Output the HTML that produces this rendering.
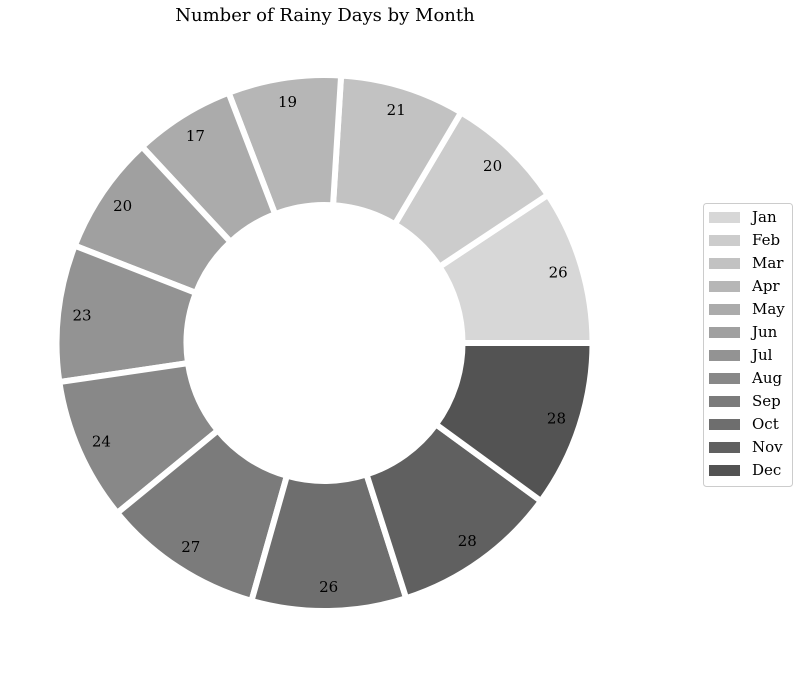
<!DOCTYPE html>
<html><head><meta charset="utf-8"><style>
body{margin:0;background:#fff;}
svg text{font-family:"DejaVu Serif","Liberation Serif",serif;}
</style></head><body>
<svg id="chart" width="800" height="669" viewBox="0 0 800 669">
<text x="325" y="21" text-anchor="middle" font-size="18" fill="#000">Number of Rainy Days by Month</text>
<g id="wedges"></g>
<g id="labels"></g>
<g>
<rect x="703.5" y="203.5" width="89" height="283" rx="3" fill="#fff" stroke="#ccc"/>
<g id="legend"></g>
</g>
</svg>
<script>
const months=["Jan","Feb","Mar","Apr","May","Jun","Jul","Aug","Sep","Oct","Nov","Dec"];
const rainyDays=[26,20,21,19,17,20,23,24,27,26,28,28];
const colors=["#d7d7d7","#cccccc","#c2c2c2","#b6b6b6","#ababab","#a0a0a0","#939393","#888888","#7b7b7b","#6e6e6e","#606060","#535353"];
const ns="http://www.w3.org/2000/svg";
const cx=324.5,cy=343,R=268,r=138,LR=244;
const total=rainyDays.reduce((a,b)=>a+b,0);
const wg=document.getElementById('wedges'),lg=document.getElementById('labels'),leg=document.getElementById('legend');
function pt(rad,a){return [cx+rad*Math.cos(a),cy-rad*Math.sin(a)];}
let start=0;
rainyDays.forEach((v,i)=>{
  const a0=start/total*2*Math.PI,a1=(start+v)/total*2*Math.PI;start+=v;
  const large=(a1-a0)>Math.PI?1:0;
  const p0=pt(R,a0),p1=pt(R,a1),q1=pt(r,a1),q0=pt(r,a0);
  const d=`M${p0} A${R},${R} 0 ${large} 0 ${p1} L${q1} A${r},${r} 0 ${large} 1 ${q0} Z`;
  const p=document.createElementNS(ns,'path');
  p.setAttribute('d',d);p.setAttribute('fill',colors[i]);p.setAttribute('stroke','#fff');p.setAttribute('stroke-width','6');p.setAttribute('stroke-linejoin','miter');
  
  
  wg.appendChild(p);
  const am=(a0+a1)/2,lp=pt(LR,am);
  const t=document.createElementNS(ns,'text');
  t.setAttribute('x',lp[0]);t.setAttribute('y',lp[1]+5);t.setAttribute('text-anchor','middle');t.setAttribute('font-size','15');
  t.textContent=v;
  
  
  lg.appendChild(t);
  const y=217+i*23;
  const g=document.createElementNS(ns,'g');
  
  
  const rc=document.createElementNS(ns,'rect');
  rc.setAttribute('x',709);rc.setAttribute('y',y-5);rc.setAttribute('width',31);rc.setAttribute('height',11);rc.setAttribute('fill',colors[i]);
  const tx=document.createElementNS(ns,'text');
  tx.setAttribute('x',752);tx.setAttribute('y',y+5);tx.setAttribute('font-size','15');tx.textContent=months[i];
  g.appendChild(rc);g.appendChild(tx);leg.appendChild(g);
});
</script>
</body></html>
